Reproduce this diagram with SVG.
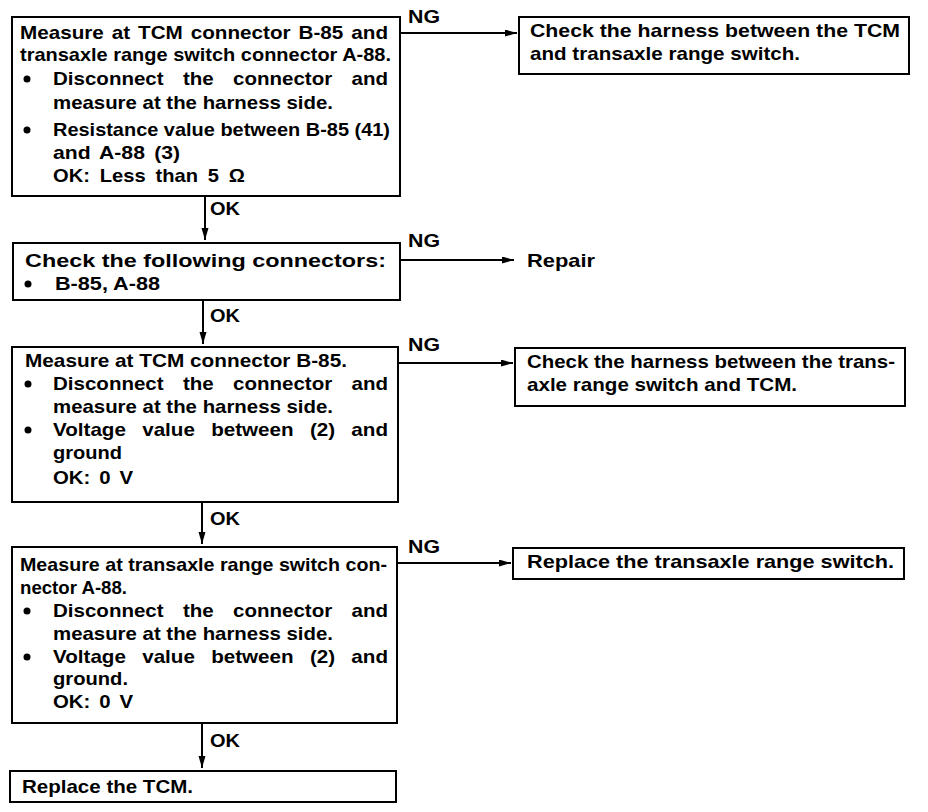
<svg xmlns="http://www.w3.org/2000/svg" width="928" height="812" viewBox="0 0 928 812">
<style>
  .box{fill:#fff;stroke:#000;stroke-width:2}
  .t{font-family:"Liberation Sans",Arial,Helvetica,sans-serif;font-weight:bold;font-size:19px;fill:#000}
  .c{fill:none;stroke:#000;stroke-width:2}
  .b{fill:#000}
</style>
<defs>
  <marker id="ah" markerUnits="userSpaceOnUse" markerWidth="13" markerHeight="8" refX="12" refY="3.5" orient="auto">
    <path d="M0,0 L12,3.5 L0,7 z" fill="#000"/>
  </marker>
</defs>
<rect width="928" height="812" fill="#fff"/>

<g id="connectors">
  <path class="c" d="M400,33 H517" marker-end="url(#ah)"/>
  <path class="c" d="M205,196 V240" marker-end="url(#ah)"/>
  <path class="c" d="M400,260 H514" marker-end="url(#ah)"/>
  <path class="c" d="M203,300 V344" marker-end="url(#ah)"/>
  <path class="c" d="M398,363 H513" marker-end="url(#ah)"/>
  <path class="c" d="M202,502 V544" marker-end="url(#ah)"/>
  <path class="c" d="M397,563 H511" marker-end="url(#ah)"/>
  <path class="c" d="M202,723 V768" marker-end="url(#ah)"/>
  <text class="t" x="408" y="23" textLength="32" lengthAdjust="spacingAndGlyphs">NG</text>
  <text class="t" x="210" y="215" textLength="30" lengthAdjust="spacingAndGlyphs">OK</text>
  <text class="t" x="408" y="247" textLength="32" lengthAdjust="spacingAndGlyphs">NG</text>
  <text class="t" x="210" y="322" textLength="30" lengthAdjust="spacingAndGlyphs">OK</text>
  <text class="t" x="408" y="351" textLength="32" lengthAdjust="spacingAndGlyphs">NG</text>
  <text class="t" x="210" y="525" textLength="30" lengthAdjust="spacingAndGlyphs">OK</text>
  <text class="t" x="408" y="553" textLength="32" lengthAdjust="spacingAndGlyphs">NG</text>
  <text class="t" x="210" y="747" textLength="30" lengthAdjust="spacingAndGlyphs">OK</text>
</g>

<g id="n1">
  <rect class="box" x="12" y="17" width="388" height="179"/>
  <text class="t" x="20" y="39" word-spacing="2" textLength="368" lengthAdjust="spacingAndGlyphs">Measure at TCM connector B-85 and</text>
  <text class="t" x="20" y="61" textLength="371" lengthAdjust="spacingAndGlyphs">transaxle range switch connector A-88.</text>
  <circle class="b" cx="27" cy="79" r="3.5"/>
  <text class="t" x="53" y="85" word-spacing="12.6" textLength="335" lengthAdjust="spacingAndGlyphs">Disconnect the connector and</text>
  <text class="t" x="53" y="109" textLength="280" lengthAdjust="spacingAndGlyphs">measure at the harness side.</text>
  <circle class="b" cx="27" cy="130" r="3.5"/>
  <text class="t" x="53" y="136" textLength="337" lengthAdjust="spacingAndGlyphs">Resistance value between B-85 (41)</text>
  <text class="t" x="53" y="159" word-spacing="3" textLength="127" lengthAdjust="spacingAndGlyphs">and A-88 (3)</text>
  <text class="t" x="53" y="182" word-spacing="4" textLength="192" lengthAdjust="spacingAndGlyphs">OK: Less than 5 Ω</text>
</g>

<g id="r1">
  <rect class="box" x="519" y="17" width="390" height="57"/>
  <text class="t" x="530" y="37" textLength="370" lengthAdjust="spacingAndGlyphs">Check the harness between the TCM</text>
  <text class="t" x="530" y="60" textLength="270" lengthAdjust="spacingAndGlyphs">and transaxle range switch.</text>
</g>

<g id="n2">
  <rect class="box" x="13" y="243" width="387" height="57"/>
  <text class="t" x="25" y="267" textLength="361" lengthAdjust="spacingAndGlyphs">Check the following connectors:</text>
  <circle class="b" cx="28" cy="284" r="3.5"/>
  <text class="t" x="55" y="290" textLength="105" lengthAdjust="spacingAndGlyphs">B-85, A-88</text>
</g>

<g id="repair">
  <text class="t" x="527" y="267" textLength="68" lengthAdjust="spacingAndGlyphs">Repair</text>
</g>

<g id="n3">
  <rect class="box" x="12" y="347" width="386" height="155"/>
  <text class="t" x="25" y="367" textLength="322" lengthAdjust="spacingAndGlyphs">Measure at TCM connector B-85.</text>
  <circle class="b" cx="28" cy="384" r="3.5"/>
  <text class="t" x="53" y="390" word-spacing="12.6" textLength="335" lengthAdjust="spacingAndGlyphs">Disconnect the connector and</text>
  <text class="t" x="53" y="413" textLength="280" lengthAdjust="spacingAndGlyphs">measure at the harness side.</text>
  <circle class="b" cx="28" cy="430" r="3.5"/>
  <text class="t" x="53" y="436" word-spacing="9.7" textLength="335" lengthAdjust="spacingAndGlyphs">Voltage value between (2) and</text>
  <text class="t" x="53" y="459" textLength="69" lengthAdjust="spacingAndGlyphs">ground</text>
  <text class="t" x="53" y="484" word-spacing="3" textLength="80" lengthAdjust="spacingAndGlyphs">OK: 0 V</text>
</g>

<g id="r2">
  <rect class="box" x="515" y="348" width="390" height="58"/>
  <text class="t" x="527" y="368" textLength="368" lengthAdjust="spacingAndGlyphs">Check the harness between the trans-</text>
  <text class="t" x="527" y="391" textLength="270" lengthAdjust="spacingAndGlyphs">axle range switch and TCM.</text>
</g>

<g id="n4">
  <rect class="box" x="12" y="547" width="385" height="176"/>
  <text class="t" x="20" y="571" textLength="367" lengthAdjust="spacingAndGlyphs">Measure at transaxle range switch con-</text>
  <text class="t" x="20" y="594" textLength="107" lengthAdjust="spacingAndGlyphs">nector A-88.</text>
  <circle class="b" cx="27" cy="611" r="3.5"/>
  <text class="t" x="53" y="617" word-spacing="12.6" textLength="335" lengthAdjust="spacingAndGlyphs">Disconnect the connector and</text>
  <text class="t" x="53" y="640" textLength="280" lengthAdjust="spacingAndGlyphs">measure at the harness side.</text>
  <circle class="b" cx="27" cy="657" r="3.5"/>
  <text class="t" x="53" y="663" word-spacing="9.7" textLength="335" lengthAdjust="spacingAndGlyphs">Voltage value between (2) and</text>
  <text class="t" x="53" y="685" textLength="75" lengthAdjust="spacingAndGlyphs">ground.</text>
  <text class="t" x="53" y="708" word-spacing="3" textLength="80" lengthAdjust="spacingAndGlyphs">OK: 0 V</text>
</g>

<g id="r3">
  <rect class="box" x="513" y="548" width="391" height="31"/>
  <text class="t" x="527" y="568" textLength="367" lengthAdjust="spacingAndGlyphs">Replace the transaxle range switch.</text>
</g>

<g id="n5">
  <rect class="box" x="10" y="771" width="386" height="31"/>
  <text class="t" x="22" y="793" textLength="171" lengthAdjust="spacingAndGlyphs">Replace the TCM.</text>
</g>
</svg>
